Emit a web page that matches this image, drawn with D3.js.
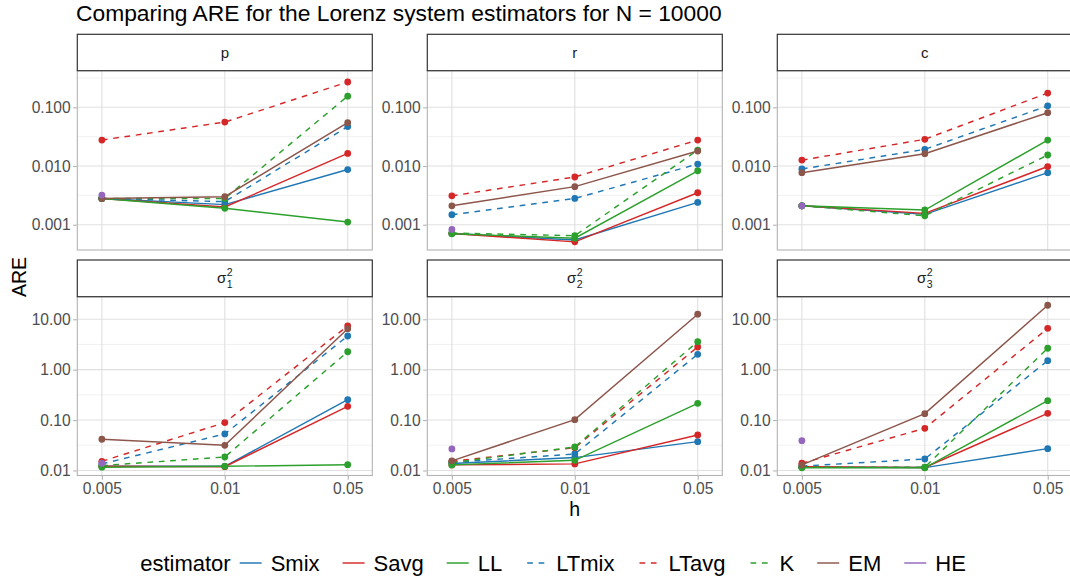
<!DOCTYPE html>
<html><head><meta charset="utf-8">
<script src="https://cdn.jsdelivr.net/npm/d3@7"></script>
<style>body{margin:0;background:#fff}svg{display:block;font-family:"Liberation Sans",Arial,sans-serif}</style>
</head><body><svg id="chart" width="1070" height="580"></svg>
<script>
// ---- data ----
const hValues = ["0.005", "0.01", "0.05"];
const estimators = ["Smix", "Savg", "LL", "LTmix", "LTavg", "K", "EM", "HE"];
const estColors = ["#1f77b4", "#d62728", "#2ca02c", "#1f77b4", "#d62728", "#2ca02c", "#8c564b", "#9467bd"];
const estDashed = [false, false, false, true, true, true, false, false];

// facet labels: [base, subscript, superscript]
const facetLabels = [["p"], ["r"], ["c"], ["σ", "1", "2"], ["σ", "2", "2"], ["σ", "3", "2"]];

// ARE values per facet; rows follow estimator order, columns follow hValues
const are_p = [
  [0.0028, 0.0022, 0.0087],
  [0.0028, 0.0020, 0.0164],
  [0.0028, 0.0019, 0.00111],
  [0.0028, 0.00247, 0.047],
  [0.0277, 0.056, 0.27],
  [0.0028, 0.0028, 0.155],
  [0.0028, 0.0030, 0.0547],
  [0.0032, null, null]
];
const are_r = [
  [0.00071, 0.00055, 0.0024],
  [0.00071, 0.00051, 0.0035],
  [0.00070, 0.00059, 0.0083],
  [0.00148, 0.0028, 0.0108],
  [0.0031, 0.0065, 0.0277],
  [0.00072, 0.00065, 0.0187],
  [0.0021, 0.00445, 0.018],
  [0.00083, null, null]
];
const are_c = [
  [0.0021, 0.0015, 0.0077],
  [0.0021, 0.00156, 0.0098],
  [0.0021, 0.00178, 0.0277],
  [0.0089, 0.0192, 0.106],
  [0.0126, 0.0285, 0.175],
  [0.0021, 0.00142, 0.0154],
  [0.0077, 0.0162, 0.081],
  [0.0021, null, null]
];
const are_s1 = [
  [0.0121, 0.0121, 0.254],
  [0.0121, 0.0119, 0.187],
  [0.0116, 0.0121, 0.013],
  [0.0135, 0.053, 4.66],
  [0.0152, 0.089, 7.4],
  [0.0125, 0.0185, 2.27],
  [0.0416, 0.0316, 6.5],
  [0.0139, null, null]
];
const are_s2 = [
  [0.0138, 0.018, 0.0373],
  [0.0129, 0.0135, 0.0506],
  [0.0129, 0.0159, 0.215],
  [0.0145, 0.0212, 2.02],
  [0.0152, 0.0283, 2.82],
  [0.0143, 0.0292, 3.6],
  [0.0155, 0.102, 12.6],
  [0.0267, null, null]
];
const are_s3 = [
  [0.0116, 0.0114, 0.0271],
  [0.0118, 0.0115, 0.136],
  [0.0113, 0.0113, 0.243],
  [0.0122, 0.0169, 1.51],
  [0.0139, 0.0687, 6.6],
  [0.0116, 0.0116, 2.66],
  [0.0129, 0.134, 19],
  [0.039, null, null]
];
const facetData = [are_p, are_r, are_c, are_s1, are_s2, are_s3];

const row1Ticks = [0.001, 0.01, 0.1];
const row1TickLabels = ["0.001", "0.010", "0.100"];
const row2Ticks = [0.01, 0.1, 1, 10];
const row2TickLabels = ["0.01", "0.10", "1.00", "10.00"];

// ---- layout ----
const svg = d3.select("#chart");
const FONT = '"Liberation Sans", Arial, sans-serif';
const colLeft = [77.3, 427.3, 777.3];
const panelW = 295;
const rows = [
  {stripTop: 34.3, panelTop: 70.7, panelBottom: 250, domain: [Math.pow(10, -3.431), Math.pow(10, -0.376)], ticks: row1Ticks, labels: row1TickLabels},
  {stripTop: 260, panelTop: 296.7, panelBottom: 475.5, domain: [Math.pow(10, -2.10), Math.pow(10, 1.448)], ticks: row2Ticks, labels: row2TickLabels}
];

svg.append("text").attr("x", 76).attr("y", 21)
  .attr("font-size", 22.8).attr("fill", "#000").text("Comparing ARE for the Lorenz system estimators for N = 10000");

facetData.forEach((data, fi) => {
  const r = rows[Math.floor(fi / 3)];
  const isBottom = fi >= 3;
  const x0 = colLeft[fi % 3];
  const g = svg.append("g");
  const x = d3.scalePoint().domain(hValues).range([x0, x0 + panelW]).padding(0.2);
  const y = d3.scaleLog().domain(r.domain).range([r.panelBottom, r.panelTop]);

  const clipId = "clip" + fi;
  svg.append("clipPath").attr("id", clipId).append("rect")
    .attr("x", x0).attr("y", r.panelTop).attr("width", panelW).attr("height", r.panelBottom - r.panelTop);

  // minor gridlines (log midpoints)
  const lo = Math.floor(Math.log10(r.domain[0])), hi = Math.ceil(Math.log10(r.domain[1]));
  const minor = d3.range(lo, hi).map(e => Math.pow(10, e + 0.5)).filter(v => v > r.domain[0] && v < r.domain[1]);
  g.selectAll(".minor").data(minor).join("line")
    .attr("x1", x0).attr("x2", x0 + panelW).attr("y1", d => y(d)).attr("y2", d => y(d))
    .attr("stroke", "#e6e6e6").attr("stroke-width", 0.55);
  g.selectAll(".major").data(r.ticks).join("line")
    .attr("x1", x0).attr("x2", x0 + panelW).attr("y1", d => y(d)).attr("y2", d => y(d))
    .attr("stroke", "#e0e0e0").attr("stroke-width", 1.1);
  g.selectAll(".vmajor").data(hValues).join("line")
    .attr("x1", d => x(d)).attr("x2", d => x(d)).attr("y1", r.panelTop).attr("y2", r.panelBottom)
    .attr("stroke", "#e0e0e0").attr("stroke-width", 1.1);

  const plot = g.append("g").attr("clip-path", `url(#${clipId})`);
  const line = d3.line().defined(d => d.v != null).x(d => x(d.h)).y(d => y(d.v));
  data.forEach((vals, ei) => {
    const pts = vals.map((v, i) => ({h: hValues[i], v}));
    plot.append("path").datum(pts).attr("d", line).attr("fill", "none")
      .attr("stroke", estColors[ei]).attr("stroke-width", 1.45)
      .attr("stroke-dasharray", estDashed[ei] ? "5.7,5.7" : null);
  });
  data.forEach((vals, ei) => {
    const pts = vals.map((v, i) => ({h: hValues[i], v})).filter(d => d.v != null);
    plot.selectAll(null).data(pts).join("circle")
      .attr("cx", d => x(d.h)).attr("cy", d => y(d.v)).attr("r", 3.4)
      .attr("fill", estColors[ei]);
  });

  // panel border
  g.append("rect").attr("x", x0).attr("y", r.panelTop).attr("width", panelW)
    .attr("height", r.panelBottom - r.panelTop).attr("fill", "none").attr("stroke", "#b3b3b3").attr("stroke-width", 1.1);

  // y axis
  const yAxis = d3.axisLeft(y).tickValues(r.ticks).tickFormat((d, i) => r.labels[i]).tickSize(3.7).tickPadding(2.4);
  const ya = svg.append("g").attr("transform", `translate(${x0 - 0.5},0)`).call(yAxis);
  ya.select(".domain").remove();
  ya.selectAll(".tick line").attr("stroke", "#b3b3b3").attr("stroke-width", 1.1);
  ya.selectAll(".tick text").attr("fill", "#4d4d4d").attr("font-size", 15.6).attr("font-family", FONT);

  if (isBottom) {
    const xAxis = d3.axisBottom(x).tickSize(3.7).tickPadding(3);
    const xa = svg.append("g").attr("transform", `translate(0,${r.panelBottom + 0.5})`).call(xAxis);
    xa.select(".domain").remove();
    xa.selectAll(".tick line").attr("stroke", "#b3b3b3").attr("stroke-width", 1.1);
    xa.selectAll(".tick text").attr("fill", "#4d4d4d").attr("font-size", 15.6).attr("font-family", FONT);
  }

  // strip
  svg.append("rect").attr("x", x0).attr("y", r.stripTop).attr("width", panelW)
    .attr("height", r.panelTop - r.stripTop).attr("fill", "#fff").attr("stroke", "#333").attr("stroke-width", 1.2);
  const lab = facetLabels[fi];
  const cx = x0 + panelW / 2, cy = (r.stripTop + r.panelTop) / 2;
  const t = svg.append("text").attr("x", cx).attr("y", cy + 5).attr("text-anchor", "middle")
    .attr("font-size", 15).attr("fill", "#1a1a1a");
  t.append("tspan").text(lab[0]);
  if (lab.length > 1) {
    t.append("tspan").attr("font-size", 10.5).attr("dy", -7.5).attr("dx", 0.5).text(lab[2]);
    t.append("tspan").attr("font-size", 10.5).attr("dy", 12).attr("dx", -5.9).text(lab[1]);
  }
});

// axis titles
svg.append("text").attr("x", 574.6).attr("y", 516).attr("text-anchor", "middle")
  .attr("font-size", 19.5).attr("fill", "#000").text("h");
svg.append("text").attr("transform", "translate(26,277) rotate(-90)").attr("text-anchor", "middle")
  .attr("font-size", 19.5).attr("fill", "#000").text("ARE");

// legend
const leg = svg.append("g");
const legY = 563;
const LFS = 22;
const title = leg.append("text").attr("x", 0).attr("y", legY + 7.5).attr("font-size", LFS).attr("fill", "#000").text("estimator");
let cur = title.node().getComputedTextLength() + 9;
estimators.forEach((e, i) => {
  leg.append("line").attr("x1", cur).attr("x2", cur + 22).attr("y1", legY).attr("y2", legY)
    .attr("stroke", estColors[i]).attr("stroke-width", 1.45)
    .attr("stroke-dasharray", estDashed[i] ? "5.7,5.7" : null)
    .attr("stroke-dashoffset", estDashed[i] ? -2 : null);
  cur += 22 + 9;
  const tt = leg.append("text").attr("x", cur).attr("y", legY + 7.5).attr("font-size", LFS).attr("fill", "#000").text(e);
  cur += tt.node().getComputedTextLength() + 23;
});
cur -= 23;
leg.attr("transform", `translate(${553 - cur / 2},0)`);
</script></body></html>
